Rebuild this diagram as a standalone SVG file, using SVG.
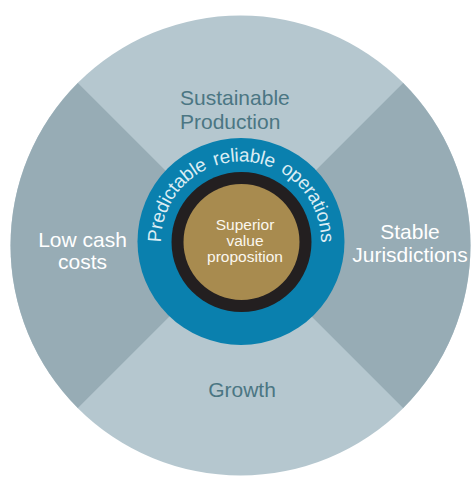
<svg xmlns="http://www.w3.org/2000/svg" width="473" height="479" viewBox="0 0 473 479">
<style>
.lbl{font-family:"Liberation Sans",Arial,sans-serif;font-size:21px}
.dark{fill:#4b7683}
.white{fill:#ffffff}
.core{font-family:"Liberation Sans",Arial,sans-serif;font-size:15.5px;fill:#fbf7ee;text-anchor:middle}
.arc{font-family:"Liberation Sans",Arial,sans-serif;font-size:19px;letter-spacing:-0.3px;word-spacing:3px;fill:#dcedf4}
</style>
<defs>
<path id="ringPath" d="M 161 241.5 A 80 80 0 0 1 321 241.5"/>
</defs>
<rect width="473" height="479" fill="#ffffff"/>
<g id="outer">
<circle cx="240.5" cy="245.5" r="230" fill="#b5c7cf"/>
</g>
<g id="sustainable-production">
<text class="lbl dark" x="180" y="105">Sustainable</text>
<text class="lbl dark" x="180" y="129">Production</text>
</g>
<g id="stable-jurisdictions">
<path d="M 240.5 245.5 L 403.1 82.9 A 230 230 0 0 1 403.1 408.1 Z" fill="#97acb5"/>
<text class="lbl white" x="410" y="239" text-anchor="middle">Stable</text>
<text class="lbl white" x="410" y="262" text-anchor="middle">Jurisdictions</text>
</g>
<g id="low-cash-costs">
<path d="M 240.5 245.5 L 77.9 408.1 A 230 230 0 0 1 77.9 82.9 Z" fill="#97acb5"/>
<text class="lbl white" x="82.5" y="247" text-anchor="middle">Low cash</text>
<text class="lbl white" x="82.5" y="269" text-anchor="middle">costs</text>
</g>
<g id="growth">
<text class="lbl dark" x="242" y="397" text-anchor="middle">Growth</text>
</g>
<g id="operations">
<circle cx="241" cy="241.5" r="103.5" fill="#0a80ae"/>
<text class="arc"><textPath href="#ringPath" startOffset="50%" text-anchor="middle">Predictable reliable operations</textPath></text>
</g>
<g id="value-proposition">
<circle cx="241.5" cy="242" r="70" fill="#231f20"/>
<circle cx="241.5" cy="242" r="58" fill="#a88b4f"/>
<text class="core" x="245" y="230">Superior</text>
<text class="core" x="245" y="246">value</text>
<text class="core" x="245" y="262">proposition</text>
</g>
<g id="connectors"/>
</svg>
